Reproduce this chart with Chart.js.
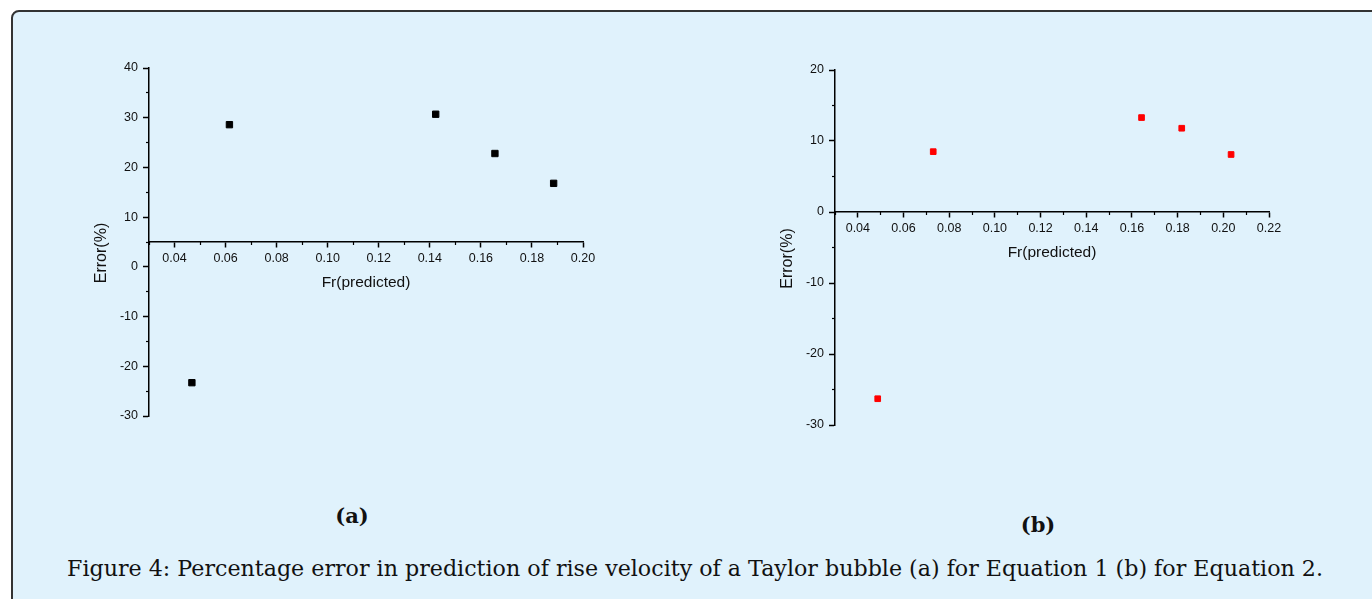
<!DOCTYPE html>
<html>
<head>
<meta charset="utf-8">
<script src="https://cdn.jsdelivr.net/npm/chart.js@4.4.0/dist/chart.umd.min.js"></script>
<style>
  html, body { margin: 0; padding: 0; background: #fff; width: 1372px; height: 599px; overflow: hidden; }
  #panel { position: absolute; left: 11px; top: 10px; width: 1400px; height: 640px; background: #e0f2fc;
           border: 2px solid #333; border-radius: 8px; box-sizing: border-box; }
  canvas { position: absolute; }
  #chartA { left: 80px; top: 50px; }
  #chartB { left: 770px; top: 50px; }
  .sub { position: absolute; font-family: "DejaVu Serif", serif; font-weight: bold; font-size: 21px;
         color: #111; transform: translate(-50%, -50%); }
  #caption { position: absolute; left: 67px; top: 558px; font-family: "DejaVu Serif", serif; font-size: 22px;
             line-height: 22px; white-space: nowrap; transform-origin: 0 0; color: #111; }
</style>
</head>
<body>
<div id="panel"></div>
<canvas id="chartA" width="560" height="390"></canvas>
<canvas id="chartB" width="560" height="390"></canvas>
<div class="sub" style="left:352px; top:515px;">(a)</div>
<div class="sub" style="left:1038px; top:524px;">(b)</div>
<div id="caption">Figure 4: Percentage error in prediction of rise velocity of a Taylor bubble (a) for Equation 1 (b) for Equation 2.</div>

<script>
// Figure 4 - percentage error of predicted Froude number, two scatter panels.

// panel (a): Equation 1
const FR_A  = [0.0468, 0.0615, 0.1423, 0.1655, 0.1885];
const ERR_A = [-23.3, 28.6, 30.7, 22.8, 16.8];
const X_TICKS_A = [0.04, 0.06, 0.08, 0.10, 0.12, 0.14, 0.16, 0.18, 0.20];
const X_MINOR_A = [0.03, 0.05, 0.07, 0.09, 0.11, 0.13, 0.15, 0.17, 0.19];
const Y_TICKS_A = [-30, -20, -10, 0, 10, 20, 30, 40];
const Y_MINOR_A = [-25, -15, -5, 5, 15, 25, 35];

// panel (b): Equation 2
const FR_B  = [0.0487, 0.0730, 0.1642, 0.1818, 0.2034];
const ERR_B = [-26.3, 8.5, 13.3, 11.8, 8.1];
const X_TICKS_B = [0.04, 0.06, 0.08, 0.10, 0.12, 0.14, 0.16, 0.18, 0.20, 0.22];
const X_MINOR_B = [0.03, 0.05, 0.07, 0.09, 0.11, 0.13, 0.15, 0.17, 0.19, 0.21];
const Y_TICKS_B = [-30, -20, -10, 0, 10, 20];
const Y_MINOR_B = [-25, -15, -5, 5, 15];

const INK = "#111";
Chart.defaults.font.family = '"Liberation Sans", Arial, sans-serif';
Chart.defaults.color = INK;

// rotated y title, a bit below the axis middle like the original
const yTitlePlugin = {
  id: "yTitle",
  afterDraw(chart, args, opts) {
    const { ctx, chartArea } = chart;
    ctx.save();
    ctx.translate(chartArea.left - 47, (chartArea.top + chartArea.bottom) / 2 + 11);
    ctx.rotate(-Math.PI / 2);
    ctx.font = '16px "Liberation Sans", Arial, sans-serif';
    ctx.fillStyle = INK;
    ctx.textAlign = "center";
    ctx.textBaseline = "middle";
    ctx.fillText(opts.text, 0, 0);
    ctx.restore();
  }
};

function tickList(arr) {
  return scale => { scale.ticks = arr.map(v => ({ value: v })); };
}

function makeChart(canvasId, c) {
  const pts = c.fr.map((x, i) => ({ x, y: c.err[i] }));
  return new Chart(document.getElementById(canvasId), {
    type: "scatter",
    data: {
      datasets: [{
        data: pts,
        xAxisID: "x",
        yAxisID: "y",
        pointStyle: "rect",
        pointRadius: c.radius,
        borderWidth: 1,
        backgroundColor: c.color,
        borderColor: c.color,
      }],
    },
    plugins: [yTitlePlugin],
    options: {
      responsive: false,
      animation: false,
      layout: { padding: c.pad },
      plugins: {
        legend: { display: false },
        tooltip: { enabled: false },
        yTitle: { text: "Error(%)" },
      },
      scales: {
        x: {
          type: "linear", min: c.xMin, max: c.xMax,
          position: { y: c.xAxisAt },
          afterBuildTicks: tickList(c.xTicks),
          ticks: { callback: v => v.toFixed(2), font: { size: 12.5 }, padding: 4,
                   maxRotation: 0, autoSkip: false },
          grid: { drawOnChartArea: false, tickLength: 5, tickWidth: 1.5, tickColor: "#000" },
          border: { color: "#000", width: 1.5 },
          title: { display: true, text: "Fr(predicted)", font: { size: 15.5 },
                   padding: { top: 3.5, bottom: 4 } },
        },
        x2: {
          type: "linear", min: c.xMin, max: c.xMax,
          position: { y: c.xAxisAt },
          afterBuildTicks: tickList(c.xMinor),
          ticks: { display: false },
          grid: { drawOnChartArea: false, tickLength: 3, tickWidth: 1.2, tickColor: "#000" },
          border: { display: false },
        },
        y: {
          type: "linear", min: c.yMin, max: c.yMax,
          position: "left",
          afterBuildTicks: tickList(c.yTicks),
          afterFit: s => { s.width = c.yAxisWidth; },
          ticks: { font: { size: 12.5 }, padding: 5, autoSkip: false },
          grid: { drawOnChartArea: false, tickLength: 6, tickWidth: 1.5, tickColor: "#000" },
          border: { color: "#000", width: 1.5 },
        },
        y2: {
          type: "linear", min: c.yMin, max: c.yMax,
          position: { x: c.xMin },
          afterBuildTicks: tickList(c.yMinor),
          ticks: { display: false },
          grid: { drawOnChartArea: false, tickLength: 3, tickWidth: 1.2, tickColor: "#000" },
          border: { display: false },
        },
      },
    },
  });
}

makeChart("chartA", {
  fr: FR_A, err: ERR_A, color: "#000", radius: 4.5,
  xMin: 0.03, xMax: 0.20, yMin: -30, yMax: 40, xAxisAt: 5, yAxisWidth: 69,
  xTicks: X_TICKS_A, xMinor: X_MINOR_A, yTicks: Y_TICKS_A, yMinor: Y_MINOR_A,
  pad: { left: 0, top: 18, right: 57, bottom: 24 },
});

makeChart("chartB", {
  fr: FR_B, err: ERR_B, color: "#ff0000", radius: 4,
  xMin: 0.03, xMax: 0.22, yMin: -30, yMax: 20, xAxisAt: 0, yAxisWidth: 65,
  xTicks: X_TICKS_B, xMinor: X_MINOR_B, yTicks: Y_TICKS_B, yMinor: Y_MINOR_B,
  pad: { left: 0, top: 20, right: 61, bottom: 15 },
});

// stretch the caption to the width it has in the original
const cap = document.getElementById("caption");
const capW = cap.getBoundingClientRect().width;
cap.style.transform = "scaleX(" + (1256 / capW) + ")";
</script>
</body>
</html>
